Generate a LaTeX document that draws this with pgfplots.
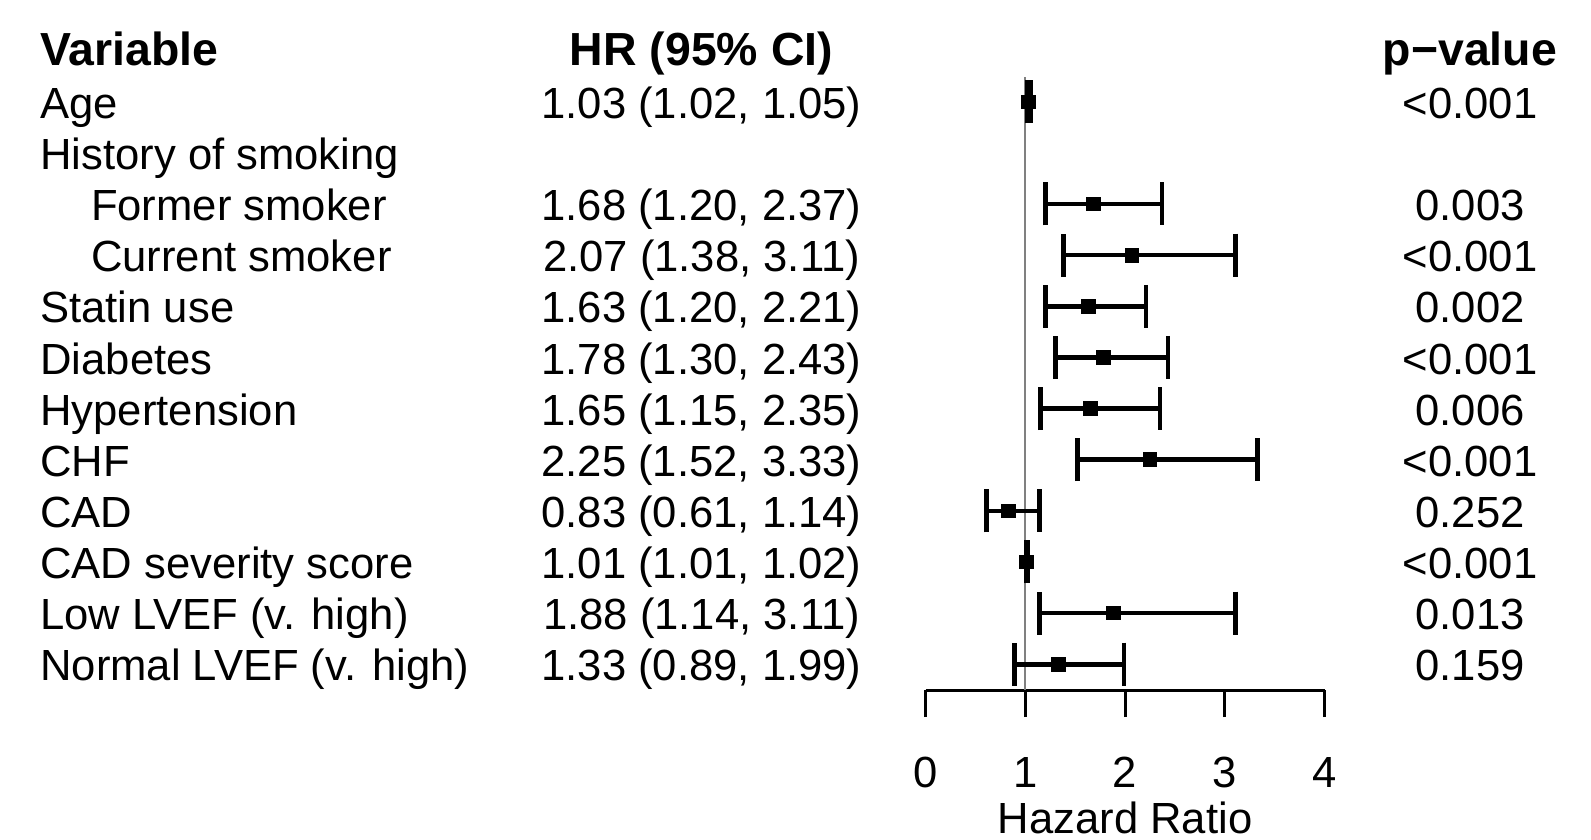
\documentclass[border=0pt]{standalone}
\usepackage{pgfplots}
\usepackage{pgfplotstable}
\pgfplotsset{compat=1.18}
\usepackage{fontspec}
\setmainfont{Liberation Sans}
\newcommand\rf{\fontsize{21.8}{26}\selectfont}
\newcommand\hf{\bfseries\fontsize{23.2}{28}\selectfont}
\tikzset{tl/.style={inner sep=0pt, font=\rf}, th/.style={inner sep=0pt, font=\hf}}
\pgfplotstableread{
row hr lo hi
1 1.03 1.02 1.05
3 1.68 1.20 2.37
4 2.07 1.38 3.11
5 1.63 1.20 2.21
6 1.78 1.30 2.43
7 1.65 1.15 2.35
8 2.25 1.52 3.33
9 0.83 0.61 1.14
10 1.01 1.005 1.02
11 1.88 1.14 3.11
12 1.33 0.89 1.99
}\hrdata
\begin{document}
\begin{tikzpicture}
\begin{axis}[
 scale only axis, width=199.35pt, height=306.5pt,
 xmin=0, xmax=4, ymin=0.517, ymax=12.508, y dir=reverse,
 axis x line*=bottom, hide y axis, clip=false,
 xtick={0,1,2,3,4}, tick align=outside, major tick length=13.5pt,
 xtick style={line width=1.5pt, black},
 axis line style={line width=1.5pt, black},
 /pgf/number format/assume math mode=true,
 xticklabel style={font=\rf, anchor=base, yshift=-35.1pt},
 xlabel={Hazard Ratio},
 xlabel style={font=\rf, inner sep=0pt, anchor=base, at={(axis description cs:0.5,0)}, yshift=-71.5pt},
]
\addplot[gray, line width=1pt] coordinates {(1,0.517) (1,12.508)};
\addplot[only marks, mark=square*, black, mark size=3.4pt,
  error bars/.cd, x dir=both, x explicit,
  error bar style={line width=2.3pt, black},
  error mark options={rotate=90, mark size=10.75pt, line width=2.3pt, black}]
  table[x=hr, y=row,
   x error plus expr=\thisrow{hi}-\thisrow{hr},
   x error minus expr=\thisrow{hr}-\thisrow{lo}] {\hrdata};

% headers
\node[anchor=base west, th] at (axis cs:-8.884,0.282) {Variable};
\node[anchor=base, th] at (axis cs:-2.249,0.282) {HR (95\% CI)};
\node[anchor=base, th] at (axis cs:5.459,0.282) {p−value};
% variable names
\node[anchor=base west, tl] at (axis cs:-8.884,1.325) {Age};
\node[anchor=base west, tl] at (axis cs:-8.884,2.325) {History of smoking};
\node[anchor=base west, tl] at (axis cs:-8.375,3.325) {Former smoker};
\node[anchor=base west, tl] at (axis cs:-8.375,4.325) {Current smoker};
\node[anchor=base west, tl] at (axis cs:-8.884,5.325) {Statin use};
\node[anchor=base west, tl] at (axis cs:-8.884,6.325) {Diabetes};
\node[anchor=base west, tl] at (axis cs:-8.884,7.325) {Hypertension};
\node[anchor=base west, tl] at (axis cs:-8.884,8.325) {CHF};
\node[anchor=base west, tl] at (axis cs:-8.884,9.325) {CAD};
\node[anchor=base west, tl] at (axis cs:-8.884,10.325) {CAD severity score};
\node[anchor=base west, tl] at (axis cs:-8.884,11.325) {Low LVEF (v. high)};
\node[anchor=base west, tl] at (axis cs:-8.884,12.325) {Normal LVEF (v. high)};
% HR column
\node[anchor=base, tl] at (axis cs:-2.249,1.325) {1.03 (1.02, 1.05)};
\node[anchor=base, tl] at (axis cs:-2.249,3.325) {1.68 (1.20, 2.37)};
\node[anchor=base, tl] at (axis cs:-2.249,4.325) {2.07 (1.38, 3.11)};
\node[anchor=base, tl] at (axis cs:-2.249,5.325) {1.63 (1.20, 2.21)};
\node[anchor=base, tl] at (axis cs:-2.249,6.325) {1.78 (1.30, 2.43)};
\node[anchor=base, tl] at (axis cs:-2.249,7.325) {1.65 (1.15, 2.35)};
\node[anchor=base, tl] at (axis cs:-2.249,8.325) {2.25 (1.52, 3.33)};
\node[anchor=base, tl] at (axis cs:-2.249,9.325) {0.83 (0.61, 1.14)};
\node[anchor=base, tl] at (axis cs:-2.249,10.325) {1.01 (1.01, 1.02)};
\node[anchor=base, tl] at (axis cs:-2.249,11.325) {1.88 (1.14, 3.11)};
\node[anchor=base, tl] at (axis cs:-2.249,12.325) {1.33 (0.89, 1.99)};
% p-values
\node[anchor=base, tl] at (axis cs:5.459,1.325) {<0.001};
\node[anchor=base, tl] at (axis cs:5.459,3.325) {0.003};
\node[anchor=base, tl] at (axis cs:5.459,4.325) {<0.001};
\node[anchor=base, tl] at (axis cs:5.459,5.325) {0.002};
\node[anchor=base, tl] at (axis cs:5.459,6.325) {<0.001};
\node[anchor=base, tl] at (axis cs:5.459,7.325) {0.006};
\node[anchor=base, tl] at (axis cs:5.459,8.325) {<0.001};
\node[anchor=base, tl] at (axis cs:5.459,9.325) {0.252};
\node[anchor=base, tl] at (axis cs:5.459,10.325) {<0.001};
\node[anchor=base, tl] at (axis cs:5.459,11.325) {0.013};
\node[anchor=base, tl] at (axis cs:5.459,12.325) {0.159};
\coordinate (BL) at (axis cs:-9.285,15.423);
\coordinate (TR) at (axis cs:6.673,-0.989);
\end{axis}
\pgfresetboundingbox
\useasboundingbox (BL) rectangle (TR);
\end{tikzpicture}
\end{document}
